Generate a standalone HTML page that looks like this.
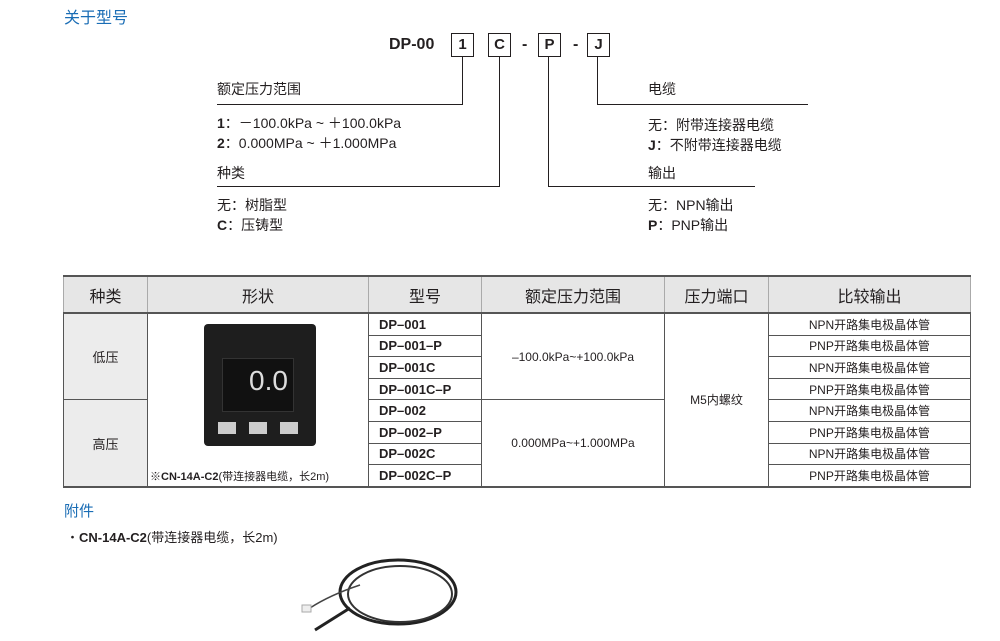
<!DOCTYPE html>
<html><head><meta charset="utf-8"><style>
body{margin:0;width:1000px;height:641px;background:#fff;position:relative;overflow:hidden;font-family:"Liberation Sans","Noto Sans CJK SC",sans-serif;color:#231f20}
.a{position:absolute;white-space:nowrap}
.t{font-size:14px}
.box{position:absolute;border:1.5px solid #231f20;width:21px;height:22px;text-align:center;font-weight:bold;font-size:15px;line-height:22px;top:33px}
.l{position:absolute;background:#231f20}
table{position:absolute;left:63px;top:275px;border-collapse:collapse;font-size:12px;table-layout:fixed;width:907px}
td{border:1px solid #555;text-align:center;padding:0;height:20.6px;overflow:hidden;white-space:nowrap}
th{background:#e6e6e6;font-weight:normal;font-size:16px;height:35px;border-left:1px solid #aaa;border-right:1px solid #aaa;padding:0}
tr.h th{border-top:2px solid #555;border-bottom:2px solid #555}
.g{background:#ececec}
.m{font-weight:bold;text-align:left;padding-left:10px;font-size:13px}
</style></head><body>
<div class="a" style="left:64px;top:4px;font-size:16px;color:#1a6db5">关于型号</div>
<div class="a" style="left:389px;top:36px;font-size:16px;font-weight:bold">DP-00</div>
<div class="box" style="left:451px">1</div>
<div class="box" style="left:488px">C</div>
<div class="a" style="left:522px;top:36px;font-weight:bold">-</div>
<div class="box" style="left:538px">P</div>
<div class="a" style="left:573px;top:36px;font-weight:bold">-</div>
<div class="box" style="left:587px">J</div>
<div class="l" style="left:462px;top:57px;width:1px;height:48px"></div>
<div class="l" style="left:217px;top:104px;width:246px;height:1px"></div>
<div class="l" style="left:499px;top:57px;width:1px;height:130px"></div>
<div class="l" style="left:217px;top:186px;width:283px;height:1px"></div>
<div class="l" style="left:548px;top:57px;width:1px;height:130px"></div>
<div class="l" style="left:548px;top:186px;width:207px;height:1px"></div>
<div class="l" style="left:597px;top:57px;width:1px;height:48px"></div>
<div class="l" style="left:597px;top:104px;width:211px;height:1px"></div>
<div class="a t" style="left:217px;top:79px">额定压力范围</div>
<div class="a t" style="left:217px;top:113px"><b>1</b>：－100.0kPa ~ ＋100.0kPa</div>
<div class="a t" style="left:217px;top:133px"><b>2</b>：0.000MPa ~ ＋1.000MPa</div>
<div class="a t" style="left:217px;top:163px">种类</div>
<div class="a t" style="left:217px;top:195px">无：树脂型</div>
<div class="a t" style="left:217px;top:215px"><b>C</b>：压铸型</div>
<div class="a t" style="left:648px;top:79px">电缆</div>
<div class="a t" style="left:648px;top:115px">无：附带连接器电缆</div>
<div class="a t" style="left:648px;top:135px"><b>J</b>：不附带连接器电缆</div>
<div class="a t" style="left:648px;top:163px">输出</div>
<div class="a t" style="left:648px;top:195px">无：NPN输出</div>
<div class="a t" style="left:648px;top:215px"><b>P</b>：PNP输出</div>
<table>
<colgroup><col style="width:84px"><col style="width:221px"><col style="width:113px"><col style="width:183px"><col style="width:104px"><col style="width:202px"></colgroup>
<tr class="h"><th>种类</th><th>形状</th><th>型号</th><th>额定压力范围</th><th>压力端口</th><th>比较输出</th></tr>
<tr><td class="g" rowspan="4" style="font-size:13px">低压</td><td rowspan="8" style="vertical-align:bottom;font-size:11px;position:relative">
<div style="position:absolute;left:56px;top:10px;width:112px;height:122px;background:#1e1e1e;border-radius:4px"><div style="position:absolute;left:18px;top:34px;width:70px;height:52px;background:#111;border:1px solid #333"><span style="position:absolute;left:26px;top:6px;color:#ddd;font-size:28px">0.0</span></div><div style="position:absolute;left:14px;top:98px;width:18px;height:12px;background:#ccc"></div><div style="position:absolute;left:45px;top:98px;width:18px;height:12px;background:#ccc"></div><div style="position:absolute;left:76px;top:98px;width:18px;height:12px;background:#ccc"></div></div>
<div style="padding:0 0 2px 2px;text-align:left">※<b>CN-14A-C2</b>(带连接器电缆，长2m)</div></td><td class="m">DP–001</td><td rowspan="4" style="font-size:12px">–100.0kPa~+100.0kPa</td><td rowspan="8">M5内螺纹</td><td>NPN开路集电极晶体管</td></tr>
<tr><td class="m">DP–001–P</td><td>PNP开路集电极晶体管</td></tr>
<tr><td class="m">DP–001C</td><td>NPN开路集电极晶体管</td></tr>
<tr><td class="m">DP–001C–P</td><td>PNP开路集电极晶体管</td></tr>
<tr><td class="g" rowspan="4" style="font-size:13px;border-bottom:2px solid #555">高压</td><td class="m">DP–002</td><td rowspan="4">0.000MPa~+1.000MPa</td><td>NPN开路集电极晶体管</td></tr>
<tr><td class="m">DP–002–P</td><td>PNP开路集电极晶体管</td></tr>
<tr><td class="m">DP–002C</td><td>NPN开路集电极晶体管</td></tr>
<tr style="border-bottom:2px solid #555"><td class="m">DP–002C–P</td><td>PNP开路集电极晶体管</td></tr>
</table>
<div class="a" style="left:64px;top:500px;font-size:15px;color:#1a6db5">附件</div>
<div class="a" style="left:66px;top:527px;font-size:13px">・<b>CN-14A-C2</b>(带连接器电缆，长2m)</div>
<svg class="a" style="left:290px;top:550px" width="180" height="90"><ellipse cx="108" cy="42" rx="58" ry="32" fill="none" stroke="#222" stroke-width="3"/><ellipse cx="110" cy="44" rx="52" ry="28" fill="none" stroke="#333" stroke-width="2"/><path d="M60 58 L25 80" stroke="#222" stroke-width="3"/><path d="M70 35 Q40 45 20 58" stroke="#444" stroke-width="1.5" fill="none"/><rect x="12" y="55" width="9" height="7" fill="#eee" stroke="#aaa"/></svg>
</body></html>
